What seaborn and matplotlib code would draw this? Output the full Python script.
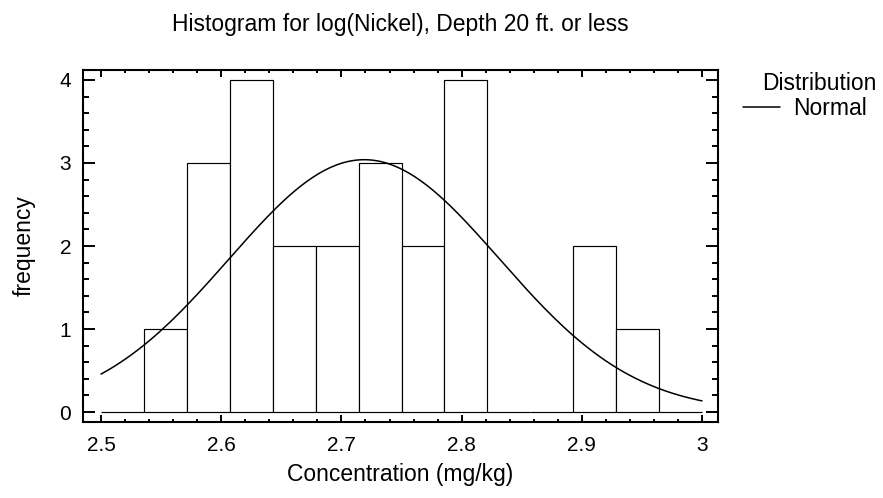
import numpy as np
import pandas as pd
import matplotlib
matplotlib.use("Agg")
import matplotlib.pyplot as plt
from matplotlib.ticker import MultipleLocator, FuncFormatter
import seaborn as sns

# histogram of log(Nickel), 14 bins between 2.5 and 3.0
bin_lo = 2.5
bin_hi = 3.0
counts = [0, 1, 3, 4, 2, 2, 3, 2, 4, 0, 0, 2, 1, 0]
# fitted normal distribution
fit_mean = 2.719
fit_sd = 0.1125

title = "Histogram for log(Nickel), Depth 20 ft. or less"
xlabel = "Concentration (mg/kg)"
ylabel = "frequency"
legend_title = "Distribution"
legend_label = "Normal"

width = (bin_hi - bin_lo) / len(counts)
centers = bin_lo + width * (np.arange(len(counts)) + 0.5)
df = pd.DataFrame({"x": centers, "w": counts})

xs = np.linspace(bin_lo, bin_hi, 200)
ys = sum(counts) * width * np.exp(-0.5 * ((xs - fit_mean) / fit_sd) ** 2) / (fit_sd * np.sqrt(2 * np.pi))

sns.set_style("ticks")
plt.rcParams['font.family'] = ['Liberation Sans', 'DejaVu Sans']
plt.rcParams['font.size'] = 16.5
for k in ['text.color', 'axes.labelcolor', 'xtick.color', 'ytick.color', 'axes.edgecolor']:
    plt.rcParams[k] = 'black'

W, H = 883, 498
fig = plt.figure(figsize=(W / 100, H / 100), dpi=100)
ax = fig.add_axes([83/W, 76/H, 635/W, 352/H])

sns.histplot(data=df, x="x", weights="w", binwidth=width, binrange=(bin_lo, bin_hi),
             color="white", alpha=1, edgecolor="black", linewidth=0.85, ax=ax)
sns.lineplot(x=xs, y=ys, color="black", linewidth=1.1, ax=ax, label=legend_label)

ax.set_xlim(2.485, 3.0133)
ax.set_ylim(-0.12, 4.12)
ax.xaxis.set_major_locator(MultipleLocator(0.1))
ax.xaxis.set_minor_locator(MultipleLocator(0.02))
ax.yaxis.set_major_locator(MultipleLocator(1))
ax.yaxis.set_minor_locator(MultipleLocator(0.2))
ax.xaxis.set_major_formatter(FuncFormatter(lambda v, p: f"{v:.1f}".rstrip("0").rstrip(".")))

ax.tick_params(axis="both", which="both", direction="in", top=True, right=True, width=1.4, labelsize=15)
ax.tick_params(axis="x", which="major", length=5, pad=10)
ax.tick_params(axis="x", which="minor", length=2.5)
ax.tick_params(axis="y", which="major", length=8.6, pad=8.5)
ax.tick_params(axis="y", which="minor", length=4.3)
for sp in ax.spines.values():
    sp.set_visible(True)
    sp.set_linewidth(1.5)

ax.set_xlabel(xlabel, fontsize=16.5, labelpad=6)
ax.set_ylabel(ylabel, fontsize=16.5, labelpad=17)
fig.text(400.5/W, 1 - 31/H, title, ha="center", va="baseline", fontsize=16.5)

leg = ax.legend(loc="upper left", bbox_to_anchor=(743/W, 1 - 97/H),
                bbox_transform=fig.transFigure, frameon=False, fontsize=16.5,
                handlelength=1.6, handletextpad=0.57, borderaxespad=0, borderpad=0)
fig.text(762/W, 1 - 90/H, legend_title, ha="left", va="baseline", fontsize=16.5)

fig.savefig("out.png", dpi=100)
